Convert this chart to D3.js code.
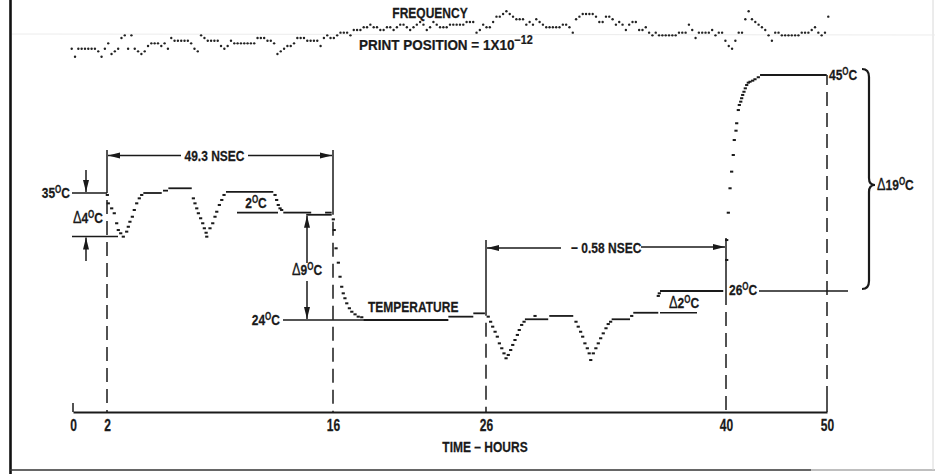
<!DOCTYPE html>
<html><head><meta charset="utf-8">
<script src="https://cdn.jsdelivr.net/npm/d3@7"></script>
<style>
html,body{margin:0;padding:0;background:#fff;}
svg text{font-family:"Liberation Sans",Arial,sans-serif;font-weight:bold;fill:#1a1a1a;stroke:#1a1a1a;stroke-width:0.25px;}
</style></head><body>
<svg id="c" width="935" height="474"></svg>
<script>
// ---- data ----
const hourTicks = [0, 2, 16, 26, 40, 50];
const tickLabels = ["0", "2", "16", "26", "40", "50"];
const tempRefs = [24, 26, 35, 45];

// frequency trace: print positions (1 position = 1x10^-12), one per print cycle
const freqPositions = [
 3,0,3,3,3,3,3,3,2,0, 3,5,1,2,3,7,8,3,8,3, 2,1,2,4,5,5,5,4,5,3, 7,6,6,6,6,6,5,3,2,8,
 7,6,6,6,6,4,3,4,6,5, 5,5,5,5,5,5,7,7,7,6, 6,5,1,2,3,4,4,5,7,7, 7,6,6,6,6,4,7,8,7,7,
 8,9,9,9,8,10,10,10,11,11, 12,11,11,10,10,11,11,10,11,12, 12,11,10,11,12,13,12,10,11,13,
 12,11,11,11,12,12,12,12,12,13,
 13,13,9,10,12,11,11,13,15,15, 16,17,16,15,14,14,14,12,13,12, 14,13,12,11,11,11,11,11,12,12,
 11,9,14,15,16,16,16,16,15,13, 13,15,15,14,12,13,12,10,12,13, 13,10,10,11,9,8,9,8,8,8,
 8,8,8,9,9,9,12,10,7,9, 9,9,9,10,8,9,9,6,4,3, 6,9,9,14,17,14,13,12,11,10,
 8,6,9,9,8,8,8,8,8,8, 9,9,9,10,11,9,8,9, 15
];

// temperature: steady runs [fromHour, toHour, degC]
const tempLevels = [
 [4.25,5.39,35.0],[5.47,5.78,35.2],[5.80,7.25,35.4],[9.37,12.30,35.1],
 [12.92,14.65,33.2],[14.34,15.92,33.0],[15.51,15.92,33.2],
 [17.98,23.54,24.0],[23.54,25.17,24.23],[25.17,25.93,24.46],
 [28.27,29.63,24.05],[29.69,31.09,24.28],[33.33,34.40,24.05],[34.59,36.05,24.5],
 [36.15,39.84,26.0],[43.37,49.97,45.0]
];
// temperature: individual printed points during transitions [hour, degC]
const tempMarks = [
 [2.02,34.82],[2.08,34.05],[2.29,33.59],[2.45,33.14],[2.60,32.22],[2.70,31.60],[2.85,31.30],[3.01,30.99],
 [3.22,31.45],[3.32,31.90],[3.42,32.36],[3.57,32.82],[3.69,33.44],[3.84,34.05],[4.00,34.51],[4.15,34.82],
 [7.35,34.51],[7.45,34.05],[7.56,33.59],[7.66,33.14],[7.80,32.68],[7.93,32.22],[8.03,31.76],[8.14,31.35],[8.18,30.99],
 [8.38,31.76],[8.55,32.22],[8.69,32.82],[8.80,33.28],[8.96,33.90],[9.11,34.36],[9.25,34.82],
 [12.41,34.82],[12.51,34.36],[12.61,33.90],[12.72,33.59],[12.82,33.44],
 [16.02,32.58],[16.08,31.60],[16.20,29.92],[16.35,28.60],[16.46,27.31],[16.57,26.39],[16.67,25.84],[16.78,25.50],
 [16.90,25.15],[17.07,24.81],[17.23,24.57],[17.44,24.39],[17.65,24.23],[17.88,24.19],
 [26.13,24.23],[26.27,23.88],[26.39,23.54],[26.53,23.19],[26.66,22.85],[26.78,22.39],[26.92,22.05],[27.05,21.70],[27.17,21.36],
 [27.30,21.59],[27.44,21.93],[27.56,22.28],[27.69,22.62],[27.83,22.97],[27.94,23.31],[28.08,23.66],[28.22,23.88],
 [28.86,24.28],
 [31.25,23.88],[31.38,23.54],[31.52,23.19],[31.64,22.85],[31.77,22.39],[31.91,22.05],[32.02,21.70],[32.11,21.24],
 [32.26,21.70],[32.41,22.05],[32.55,22.39],[32.69,22.74],[32.84,23.08],[33.00,23.43],[33.13,23.72],[33.27,23.88],
 [34.50,24.28],[36.05,25.66],[36.11,25.84],
 [40.07,28.85],[40.07,30.68],[40.23,33.19],[40.40,35.40],[40.56,36.81],[40.72,38.22],[40.82,39.49],[40.99,40.28],
 [41.06,40.91],[41.22,42.03],[41.32,42.46],[41.46,42.74],[41.55,43.03],[41.65,43.31],[41.78,43.58],[41.91,43.87],
 [42.05,44.15],[42.21,44.35],[42.38,44.43],[42.64,44.52],[42.87,44.64],[43.20,44.81]
];

// ---- scales ----
const x = d3.scaleLinear().domain(hourTicks).range([73, 107, 333, 486, 726, 827]);
const y = d3.scaleLinear().domain(tempRefs).range([320, 291, 193, 75]);
const fx = d3.scaleLinear().domain([0, freqPositions.length - 1]).range([71.7, 828.3]);
const fy = d3.scaleLinear().domain([0, 17]).range([56.7, 11.3]);

const svg = d3.select("#c");
const INK = "#1a1a1a";
const NARROW = 0.8;

// frame
svg.append("line").attr("x1",10.5).attr("x2",10.5).attr("y1",0).attr("y2",474).attr("stroke","#111").attr("stroke-width",2.6);
svg.append("line").attr("x1",10).attr("x2",811).attr("y1",470).attr("y2",470).attr("stroke","#333").attr("stroke-width",1.6);
svg.append("line").attr("x1",811).attr("x2",935).attr("y1",470).attr("y2",470).attr("stroke","#aaa").attr("stroke-width",1.4);
svg.append("line").attr("x1",933).attr("x2",933).attr("y1",0).attr("y2",470).attr("stroke","#d8d8d8").attr("stroke-width",1);
svg.append("line").attr("x1",12).attr("x2",935).attr("y1",34).attr("y2",35).attr("stroke","#ececec").attr("stroke-width",1);

// text helper: condensed bold, superscript degree, delta, exponent
function label(str, px, py, anchor, size, sx) {
  size = size || 15;
  const g = svg.append("g").attr("transform", `translate(${px},${py}) scale(${sx || NARROW},1)`);
  const t = g.append("text").attr("x", 0).attr("y", 0)
    .attr("text-anchor", anchor || "start").style("font-size", size + "px");
  const parts = str.split(/(°|Δ|\^\S+)/);
  let raised = 0;
  parts.forEach(p => {
    if (!p) return;
    if (p === "°") {
      t.append("tspan").attr("dy", -5).style("font-size", "10px").text("O");
      raised = 5;
    } else if (p.startsWith("^")) {
      t.append("tspan").attr("dy", -6).style("font-size", "12px").text(p.slice(1));
      raised = 6;
    } else if (p === "Δ") {
      t.append("tspan").attr("dy", raised).style("font-weight", "normal").style("font-size", (size + 1) + "px").text("Δ");
      raised = 0;
    } else {
      t.append("tspan").attr("dy", raised).text(p);
      raised = 0;
    }
  });
  return t;
}

function line(x1, y1, x2, y2, w, dash) {
  const l = svg.append("line").attr("x1", x1).attr("y1", y1).attr("x2", x2).attr("y2", y2)
    .attr("stroke", INK).attr("stroke-width", w || 1.6);
  if (dash) l.attr("stroke-dasharray", dash);
  return l;
}
function arrow(x1, y1, x2, y2) {
  line(x1, y1, x2, y2, 1.5);
  const a = Math.atan2(y2 - y1, x2 - x1), L = 12, W = 3;
  const bx = x2 - L * Math.cos(a), by = y2 - L * Math.sin(a);
  const px = -Math.sin(a) * W, py = Math.cos(a) * W;
  svg.append("path").attr("d", `M${x2},${y2}L${bx + px},${by + py}L${bx - px},${by - py}Z`).attr("fill", INK);
}

// ---- frequency trace ----
svg.append("g").selectAll("circle").data(freqPositions).join("circle")
  .attr("cx", (d, i) => fx(i)).attr("cy", d => fy(d)).attr("r", 1.2).attr("fill", "#222");

label("FREQUENCY", 430, 18, "middle", 15);
label("PRINT POSITION = 1X10^−12", 359, 50, "start", 15, 0.9);

// ---- x axis ----
const axisY = 412;
const ax = svg.append("g").attr("transform", `translate(0,${axisY})`)
  .call(d3.axisBottom(x).tickValues(hourTicks).tickFormat((d, i) => tickLabels[i]).tickSize(0).tickSizeOuter(0).tickPadding(8));
ax.select(".domain").attr("stroke", INK).attr("stroke-width", 2.2);
ax.selectAll("text").style("font-size", "16px").attr("fill", INK)
  .style("font-family", '"Liberation Sans",Arial,sans-serif').style("font-weight", "bold")
  .attr("transform", `scale(0.75,1)`);
label("TIME – HOURS", 485, 452, "middle", 15);

// start / end ticks
line(x(0), axisY - 9, x(0), axisY, 1.5);
line(x(50), axisY - 17, x(50), axisY, 1.5);

// ---- guide verticals ----
const dash = "14,7";
line(x(2), 150, x(2), y(35), 1.5);
line(x(2), y(35) + 7, x(2), axisY, 1.5, dash);
line(x(16), 150, x(16), y(33), 1.5);
line(x(16), y(33) + 7, x(16), axisY, 1.5, dash);
line(x(26), 240, x(26), y(24.3), 1.5);
line(x(26), y(24.3) + 7, x(26), axisY, 1.5, dash);
line(x(40), 238, x(40), 305, 1.5);
line(x(40), 312, x(40), axisY, 1.5, dash);
line(x(50), y(45), x(50), y(45) + 10, 1.5);
line(x(50), y(45) + 17, x(50), axisY - 17, 1.5, dash);

// ---- temperature trace ----
svg.append("g").selectAll("line").data(tempLevels).join("line")
  .attr("x1", d => x(d[0])).attr("x2", d => x(d[1]))
  .attr("y1", d => y(d[2])).attr("y2", d => y(d[2]))
  .attr("stroke", INK).attr("stroke-width", 1.8);
svg.append("g").selectAll("rect").data(tempMarks).join("rect")
  .attr("x", d => x(d[0]) - 1.6).attr("y", d => y(d[1]) - 1)
  .attr("width", 3.2).attr("height", 2).attr("fill", INK);

label("TEMPERATURE", 368, 312, "start", 15);

// ---- annotations ----
// 35°C and Δ4°C
line(72, y(35), x(2), y(35), 1.6);
label("35°C", 70, y(35) + 5, "end");
arrow(86, 170, 86, y(35) - 1);
line(72, y(31), 118, y(31), 1.6);
arrow(86, 261, 86, y(31) + 1);
label("Δ4°C", 103, 223, "end");

// 49.3 NSEC
arrow(181, 155.5, x(2) + 1, 155.5);
arrow(248, 155.5, x(16) - 1, 155.5);
label("49.3 NSEC", 214.5, 160.5, "middle");

// 2°C
line(237, y(33.2), 278, y(33.2), 1.6);
label("2°C", 256, 208, "middle");

// Δ9°C
arrow(307, 263, 307, y(33) + 1);
arrow(307, 281, 307, y(24) - 1);
label("Δ9°C", 307, 275, "middle");

// 24°C
line(283, y(24), x(18), y(24), 1.6);
label("24°C", 280, y(24) + 5, "end");

// 0.58 NSEC
arrow(561, 248, x(26) + 1, 248);
arrow(641, 247, x(40) - 1, 247);
label("− 0.58 NSEC", 571, 252.5, "start");

// Δ2°C
line(660, y(24.5), 697, y(24.5), 1.6);
label("Δ2°C", 684, 308, "middle");

// 26°C
line(759, y(26), 848, y(26), 1.6);
label("26°C", 729, 295, "start");

// 45°C / Δ19°C
label("45°C", 829, 80, "start");
svg.append("path")
  .attr("d", `M862,${y(45) - 6} Q869,${y(45) - 6} 869,${y(45) + 2} L869,178 Q869,185 875,185 Q869,185 869,192 L869,${y(26) - 10} Q869,${y(26) - 2} 862,${y(26) - 2}`)
  .attr("fill", "none").attr("stroke", INK).attr("stroke-width", 2.2);
label("Δ19°C", 877, 190, "start");
</script>
</body></html>
